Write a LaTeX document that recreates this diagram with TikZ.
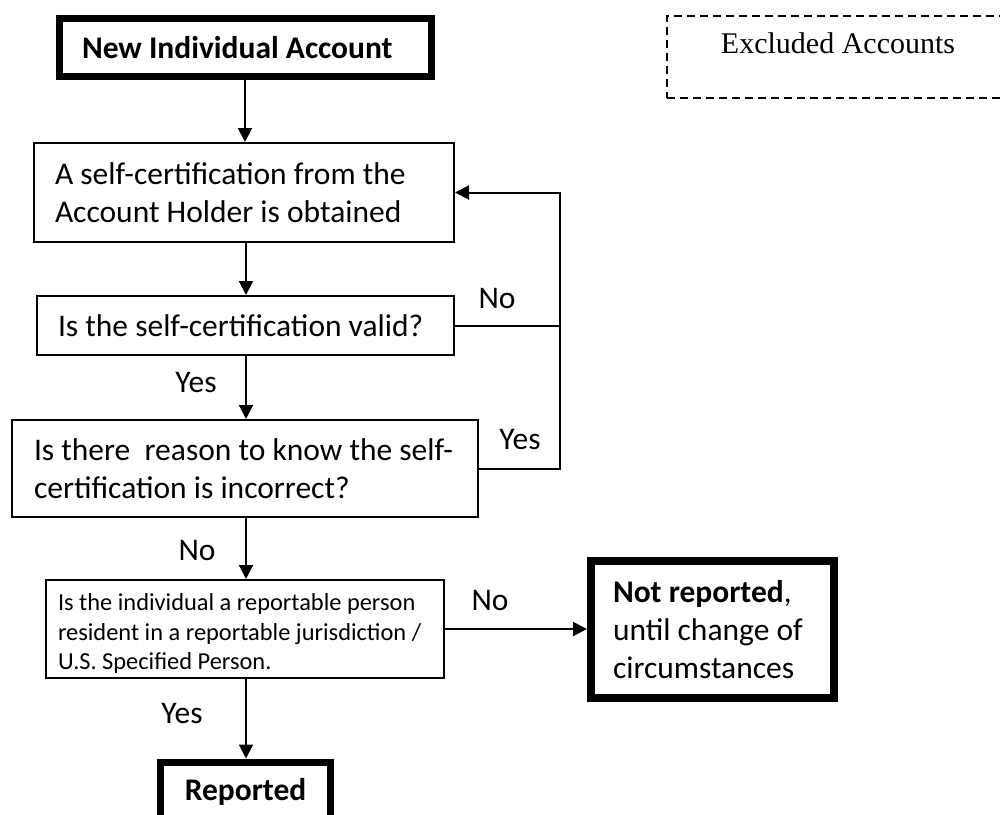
\documentclass[tikz,border=0pt]{standalone}
\usepackage{fontspec}
\setmainfont{Carlito}
\newfontfamily\exclfont{Liberation Serif}
\usetikzlibrary{arrows.meta}
\newcommand{\fbig}{\fontsize{31.5}{38}\selectfont}
\newcommand{\fsmall}{\fontsize{24.4}{29.8}\selectfont}
\tikzset{
  flowbox/.style={draw=black, line width=2pt, align=flush left, inner ysep=0pt, font=\fbig},
  heavybox/.style={draw=black, line width=7.5pt, inner ysep=0pt, font=\fbig},
  conn/.style={draw=black, line width=2pt},
  arr/.style={conn, -{Triangle[length=14pt,width=14pt]}},
  lab/.style={font=\fbig, inner sep=0pt},
  exclbox/.style={draw=black, line width=2pt, dash pattern=on 8pt off 5pt}
}
\begin{document}
\begin{tikzpicture}[x=1pt,y=-1pt]
\clip (0,0) rectangle (1000,814);
\fill[white] (0,0) rectangle (1000,814);

% nodes
\node[heavybox, align=flush left, minimum width=372pt, minimum height=58pt, inner xsep=22.5pt, text width=327pt] (b1) at (245.5,47.5) {\bfseries New Individual Account};
\node[flowbox, minimum width=420pt, minimum height=99pt, inner xsep=21pt, text width=378pt] (b2) at (244,192.5) {A self-certification from the\\Account Holder is obtained};
\node[flowbox, minimum width=417pt, minimum height=59pt, inner xsep=21pt, text width=375pt] (b3) at (245.5,325.5) {Is the self-certification valid?};
\node[flowbox, minimum width=466pt, minimum height=97pt, inner xsep=22pt, text width=422pt] (b4) at (245,468.5) {Is there~ reason to know the self-\\certification is incorrect?};
\node[flowbox, font=\fsmall, minimum width=398pt, minimum height=98pt, inner xsep=12pt, text width=374pt] (b5) at (245,629) {\rule{0pt}{26pt}Is the individual a reportable person\\resident in a reportable jurisdiction /\\U.S. Specified Person.};
\node[heavybox, line width=8pt, align=flush left, minimum width=243pt, minimum height=137pt, inner xsep=22pt, text width=199pt] (nr) at (712.5,629.5) {\textbf{Not reported},\\until change of\\circumstances};
\node[heavybox, line width=7pt, align=center, minimum width=170pt, minimum height=60pt, anchor=north] (rep) at (245.5,758.5) {\bfseries Reported};
\node[exclbox, minimum width=350pt, minimum height=82pt, anchor=north west] (excl) at (666,15) {};
\node[font=\exclfont\fontsize{30}{36}\selectfont, inner sep=0pt] (excltxt) at (838,43) {Excluded Accounts};

% labels
\node[lab] (l1) at (196,383) {Yes};
\node[lab] (l2) at (497,298) {No};
\node[lab] (l3) at (520,440) {Yes};
\node[lab] (l4) at (197,550) {No};
\node[lab] (l5) at (490,600) {No};
\node[lab] (l6) at (182,713) {Yes};

% connectors
\coordinate (rail) at (560,0);
\draw[arr] (b1.south -| 245,0) -- (245,0 |- b2.north);
\draw[arr] (b2.south -| 246,0) -- (246,0 |- b3.north);
\draw[arr] (b3.south -| 246,0) -- (246,0 |- b4.north);
\draw[arr] (b4.south -| 246,0) -- (246,0 |- b5.north);
\draw[arr] (b5.south -| 246,0) -- (246,0 |- rep.north);
\draw[arr] (b5.east) -- (b5.east -| nr.west);
\draw[arr] (b3.east) -- (b3.east -| rail) |- (b2.east);
\draw[conn] (b4.east) -- (b4.east -| rail) -- (b3.east -| rail);
\end{tikzpicture}
\end{document}
